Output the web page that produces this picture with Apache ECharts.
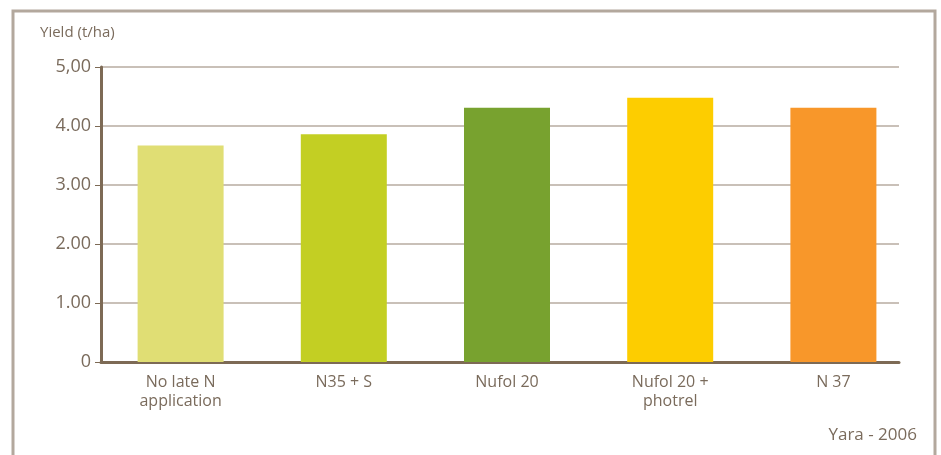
<!DOCTYPE html>
<html>
<head>
<meta charset="utf-8">
<script src="https://cdn.jsdelivr.net/npm/echarts@6/dist/echarts.min.js"></script>
<style>
  html, body { margin: 0; padding: 0; background: #fff; }
  #chart { width: 941px; height: 455px; }
</style>
</head>
<body>
<div id="chart"></div>
<script>
const categories = ['No late N\napplication', 'N35 + S', 'Nufol 20', 'Nufol 20 +\nphotrel', 'N 37']
const yieldValues = [3.67, 3.86, 4.31, 4.48, 4.31]
const barColors = ['#e0de74', '#c3cf23', '#78a22f', '#fdcd00', '#f8972a']
const yTickLabels = ['0', '1.00', '2.00', '3.00', '4.00', '5,00']

const textColor = '#7a6b5c'
const axisColor = '#7d6a55'
const fontFamily = '"Open Sans", sans-serif'

const chart = echarts.init(document.getElementById('chart'))
const option = {
  animation: false,
  graphic: [
    {
      type: 'rect',
      shape: { x: 13, y: 11, width: 922, height: 460 },
      style: { fill: 'none', stroke: '#b3a89d', lineWidth: 3 }
    },
    {
      type: 'text',
      left: 40,
      top: 25,
      style: { text: 'Yield (t/ha)', fill: textColor, font: '15px ' + fontFamily }
    },
    {
      type: 'text',
      right: 24,
      top: 427,
      style: { text: 'Yara - 2006', fill: textColor, font: '17px ' + fontFamily }
    }
  ],
  grid: [
    { left: 101, top: 67, width: 798, height: 295 },
    { left: 99, top: 67, width: 816, height: 295 }
  ],
  xAxis: [
    {
      type: 'category',
      gridIndex: 0,
      data: categories,
      axisLine: { lineStyle: { color: axisColor, width: 3 } },
      axisTick: { show: false },
      axisLabel: { show: false }
    },
    {
      type: 'category',
      gridIndex: 1,
      data: categories,
      axisLine: { show: false },
      axisTick: { show: false },
      axisLabel: {
        color: textColor,
        fontSize: 16,
        lineHeight: 19,
        margin: 11,
        fontFamily: fontFamily
      }
    }
  ],
  yAxis: [
    {
      type: 'value',
      gridIndex: 0,
      min: 0,
      max: 5,
      interval: 1,
      axisLine: { show: true, lineStyle: { color: axisColor, width: 3 } },
      axisTick: { show: true, length: 6, lineStyle: { color: axisColor, width: 1 } },
      axisLabel: {
        color: textColor,
        fontSize: 18,
        margin: 10,
        fontFamily: fontFamily,
        formatter: v => yTickLabels[Math.round(v)]
      },
      splitLine: { show: true, lineStyle: { color: '#c9c0b8', width: 2 } }
    },
    {
      type: 'value',
      gridIndex: 1,
      min: 0,
      max: 5,
      interval: 1,
      show: false,
      splitLine: { show: false }
    }
  ],
  series: [
    {
      type: 'bar',
      xAxisIndex: 1,
      yAxisIndex: 1,
      barWidth: 86,
      data: yieldValues.map((v, i) => ({ value: v, itemStyle: { color: barColors[i] } }))
    }
  ]
}
chart.setOption(option)
</script>
</body>
</html>
